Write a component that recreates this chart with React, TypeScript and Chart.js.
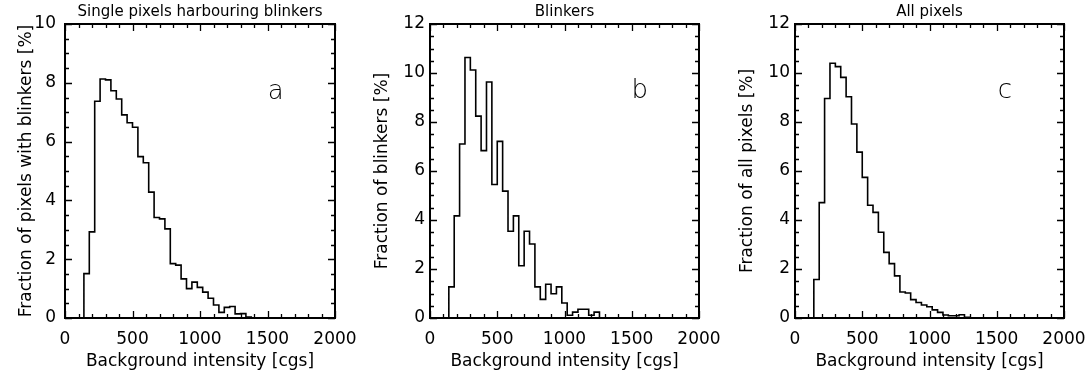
import React, { useEffect, useRef } from 'react';
import { Chart, registerables } from 'chart.js';

Chart.register(...registerables);

// ---------------- data ----------------
const binEdges = [
  140, 180, 220, 260, 300, 340, 380, 420, 460, 500, 540, 580, 620, 660, 700, 740,
  780, 820, 860, 900, 940, 980, 1020, 1060, 1100, 1140, 1180, 1220, 1260, 1300, 1340, 1380,
];

const fracPixelsWithBlinkers = [
  1.51, 2.93, 7.37, 8.13, 8.10, 7.73, 7.45, 6.91, 6.64, 6.49, 5.49, 5.28, 4.28, 3.42, 3.37, 3.03,
  1.85, 1.80, 1.33, 1.00, 1.22, 1.04, 0.88, 0.67, 0.44, 0.19, 0.36, 0.39, 0.14, 0.15, 0.03,
];

const fracBlinkers = [
  1.27, 4.17, 7.10, 10.63, 10.12, 8.24, 6.83, 9.63, 5.45, 7.21, 5.18, 3.54, 4.17, 2.13, 3.54, 3.02,
  1.27, 0.76, 1.38, 0.99, 1.27, 0.61, 0.11, 0.24, 0.36, 0.36, 0.11, 0.24,
];

const fracAllPixels = [
  1.57, 4.71, 8.96, 10.40, 10.26, 9.82, 9.03, 7.92, 6.77, 5.74, 4.60, 4.31, 3.50, 2.68, 2.22, 1.72,
  1.06, 1.02, 0.75, 0.63, 0.53, 0.46, 0.33, 0.23, 0.12, 0.09, 0.09, 0.13, 0.03,
];

const xTickValues = [0, 500, 1000, 1500, 2000];
const yTickValuesA = [0, 2, 4, 6, 8, 10];
const yTickValuesBC = [0, 2, 4, 6, 8, 10, 12];

const panelTitles = ['Single pixels harbouring blinkers', 'Blinkers', 'All pixels'];
const yAxisTitles = [
  'Fraction of pixels with blinkers [%]',
  'Fraction of blinkers [%]',
  'Fraction of all pixels [%]',
];
const xAxisTitle = 'Background intensity [cgs]';
const panelLetters = ['a', 'b', 'c'];

// ---------------- styling / layout ----------------
const FONT = "'DejaVu Sans', 'Liberation Sans', sans-serif";
const H = 374;

const panels = [
  { left: 0, width: 360, yWidth: 65, padRight: 25, yTickPad: 9, yTitlePad: 16.8, ymax: 10, yTicks: yTickValuesA, values: fracPixelsWithBlinkers, letterX: 1560, letterY: 7.46 },
  { left: 360, width: 365, yWidth: 70, padRight: 26, yTickPad: 5, yTitlePad: 12.8, ymax: 12, yTicks: yTickValuesBC, values: fracBlinkers, letterX: 1560, letterY: 8.98 },
  { left: 725, width: 363, yWidth: 70, padRight: 24, yTickPad: 5, yTitlePad: 12.8, ymax: 12, yTicks: yTickValuesBC, values: fracAllPixels, letterX: 1560, letterY: 8.98 },
];

function histPoints(values: number[]) {
  const pts: { x: number; y: number }[] = [{ x: binEdges[0], y: 0 }];
  values.forEach((v, i) => pts.push({ x: binEdges[i], y: v }));
  pts.push({ x: binEdges[values.length], y: 0 });
  return pts;
}

const frameTicksPlugin = {
  id: 'frameTicks',
  afterDatasetsDraw(chart: any, _args: any, opts: any) {
    const { ctx, chartArea, scales } = chart;
    const { left, right, top, bottom } = chartArea;
    const x = scales.x;
    const y = scales.y;
    ctx.save();
    ctx.strokeStyle = '#000';
    ctx.lineWidth = 1.3;
    ctx.beginPath();
    for (let v = 0; v <= 2000; v += 100) {
      const px = Math.round(x.getPixelForValue(v)) + 0.5;
      const len = v % 500 === 0 ? 7 : 4;
      ctx.moveTo(px, bottom);
      ctx.lineTo(px, bottom - len);
      ctx.moveTo(px, top);
      ctx.lineTo(px, top + len);
    }
    for (let k = 0; k <= opts.ymax * 2; k++) {
      const v = k / 2;
      const py = Math.round(y.getPixelForValue(v)) + 0.5;
      const len = k % 4 === 0 ? 7 : 4;
      ctx.moveTo(left, py);
      ctx.lineTo(left + len, py);
      ctx.moveTo(right, py);
      ctx.lineTo(right - len, py);
    }
    ctx.stroke();
    ctx.lineWidth = 2;
    ctx.strokeRect(left, top, right - left, bottom - top);
    ctx.fillStyle = '#000';
    ctx.font = `200 26px ${FONT}`;
    ctx.textAlign = 'center';
    ctx.textBaseline = 'alphabetic';
    ctx.fillText(opts.letter, x.getPixelForValue(opts.lx), y.getPixelForValue(opts.ly));
    ctx.restore();
  },
};

function makeConfig(i: number): any {
  const p = panels[i];
  return {
    type: 'line',
    data: {
      datasets: [
        {
          data: histPoints(p.values),
          stepped: true,
          borderColor: '#000',
          borderWidth: 1.6,
          pointRadius: 0,
          fill: false,
          tension: 0,
        },
      ],
    },
    options: {
      animation: false,
      responsive: false,
      events: [],
      layout: { padding: { left: 0, right: p.padRight, top: 0, bottom: 0 } },
      plugins: {
        legend: { display: false },
        tooltip: { enabled: false },
        title: {
          display: true,
          text: panelTitles[i],
          fullSize: false,
          color: '#000',
          font: { family: FONT, size: 15, weight: 'normal' },
          padding: { top: 3, bottom: 3 },
        },
        frameTicks: { ymax: p.ymax, letter: panelLetters[i], lx: p.letterX, ly: p.letterY },
      },
      scales: {
        x: {
          type: 'linear',
          min: 0,
          max: 2000,
          afterBuildTicks: (s: any) => {
            s.ticks = xTickValues.map((v) => ({ value: v }));
          },
          afterFit: (s: any) => {
            s.height = 56;
            s.paddingLeft = 0;
            s.paddingRight = 0;
          },
          grid: { display: false, drawTicks: false },
          border: { display: false },
          ticks: {
            padding: 11,
            color: '#000',
            maxRotation: 0,
            autoSkip: false,
            font: { family: FONT, size: 17 },
            callback: (v: any) => String(v),
          },
          title: {
            display: true,
            text: xAxisTitle,
            color: '#000',
            font: { family: FONT, size: 17 },
            padding: { top: 0, bottom: 2 },
          },
        },
        y: {
          type: 'linear',
          min: 0,
          max: p.ymax,
          afterBuildTicks: (s: any) => {
            s.ticks = p.yTicks.map((v) => ({ value: v }));
          },
          afterFit: (s: any) => {
            s.width = p.yWidth;
            s.paddingTop = 0;
            s.paddingBottom = 0;
          },
          grid: { display: false, drawTicks: false },
          border: { display: false },
          ticks: {
            padding: p.yTickPad,
            color: '#000',
            autoSkip: false,
            font: { family: FONT, size: 17 },
            callback: (v: any) => String(v),
          },
          title: {
            display: true,
            text: yAxisTitles[i],
            color: '#000',
            font: { family: FONT, size: 17 },
            padding: { top: p.yTitlePad, bottom: 0 },
          },
        },
      },
    },
    plugins: [frameTicksPlugin],
  };
}

export default function App() {
  const r0 = useRef<HTMLCanvasElement>(null);
  const r1 = useRef<HTMLCanvasElement>(null);
  const r2 = useRef<HTMLCanvasElement>(null);
  const refs = [r0, r1, r2];

  useEffect(() => {
    const charts = refs.map((r, i) => new Chart(r.current as HTMLCanvasElement, makeConfig(i)));
    return () => charts.forEach((c) => c.destroy());
  }, []);

  return (
    <div style={{ position: 'absolute', left: 0, top: 0, width: 1088, height: H, background: '#fff', overflow: 'hidden' }}>
      {panels.map((p, i) => (
        <canvas
          key={i}
          ref={refs[i]}
          width={p.width}
          height={H}
          style={{ position: 'absolute', left: p.left, top: 0, width: p.width, height: H }}
        />
      ))}
    </div>
  );
}
